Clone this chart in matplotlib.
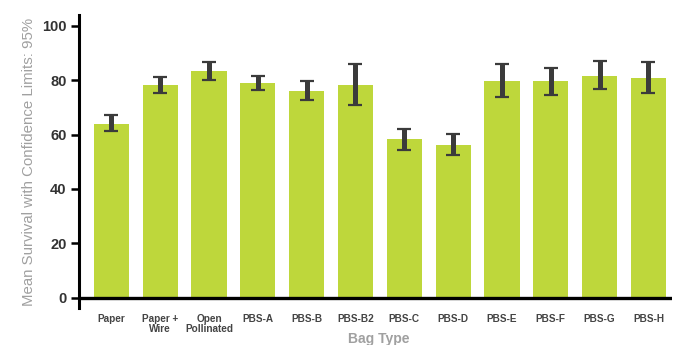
import matplotlib
matplotlib.use("Agg")
import matplotlib.pyplot as plt
import numpy as np

categories = ["Paper", "Paper +\nWire", "Open\nPollinated", "PBS-A", "PBS-B", "PBS-B2",
              "PBS-C", "PBS-D", "PBS-E", "PBS-F", "PBS-G", "PBS-H"]
means = [63.9, 78.2, 83.3, 78.9, 76.0, 78.2, 58.3, 56.1, 79.7, 79.7, 81.5, 80.8]
upper = [67.3, 81.3, 86.5, 81.6, 79.8, 85.8, 62.1, 60.3, 85.8, 84.4, 87.1, 86.8]
lower = [61.3, 75.1, 80.0, 76.2, 72.7, 70.7, 54.4, 52.4, 73.9, 74.4, 76.6, 75.1]
yticks = [0, 20, 40, 60, 80, 100]

plt.rcParams['font.family'] = ['Liberation Sans', 'DejaVu Sans']

fig = plt.figure(figsize=(6.8, 3.45), dpi=100)
ax = fig.add_axes([0.116, 0.107, 0.872, 0.85])

x = np.arange(len(categories))
ax.bar(x, means, width=0.72, color="#BED73B", zorder=1)
m = np.array(means)
yerr = np.vstack([m - np.array(lower), np.array(upper) - m])
ax.errorbar(x, means, yerr=yerr, fmt="none", ecolor="#3b3b3b", elinewidth=3.6,
            capsize=4.8, capthick=1.6, zorder=3)

ax.set_xlim(-0.666, 11.48)
ax.set_ylim(-3.8, 104)
ax.axhline(0, color="black", linewidth=2.4, zorder=4)

for s in ["top", "right", "bottom"]:
    ax.spines[s].set_visible(False)
ax.spines["left"].set_linewidth(2.2)
ax.spines["left"].set_color("black")

ax.set_yticks(yticks)
ax.set_yticklabels([str(v) for v in yticks], fontsize=10.5, fontweight="bold", color="#333333")
ax.tick_params(axis="y", direction="out", length=6, width=1.8, color="black", pad=3)

ax.set_xticks(x)
ax.set_xticklabels(categories, fontsize=7.2, fontweight="bold", color="#444444", linespacing=1.0)
ax.tick_params(axis="x", length=0, pad=4)

ax.set_ylabel("Mean Survival with Confidence Limits: 95%", fontsize=10.8, color="#a0a0a0", labelpad=4)
fig.text(0.557, -0.002, "Bag Type", fontsize=10, fontweight="bold", color="#a0a0a0", ha="center", va="bottom")

fig.savefig("out.png", dpi=100)
